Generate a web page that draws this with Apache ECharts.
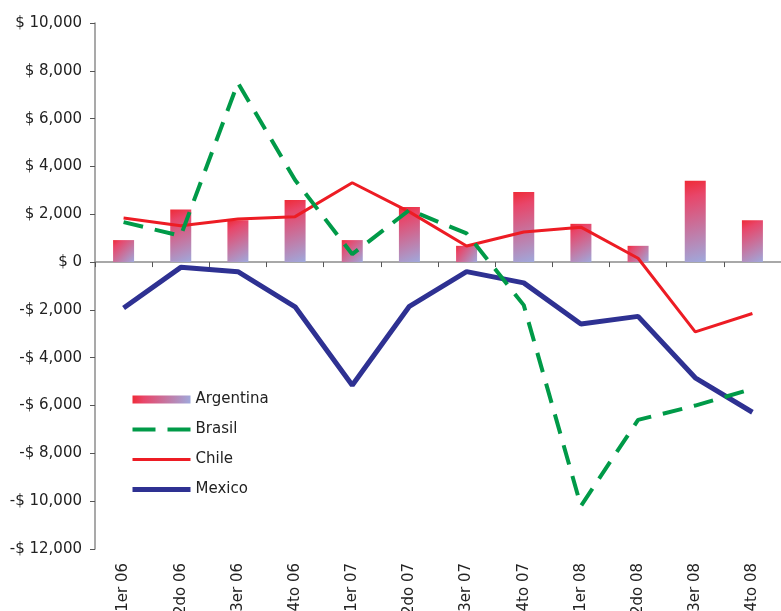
<!DOCTYPE html>
<html>
<head>
<meta charset="utf-8">
<script src="https://cdn.jsdelivr.net/npm/echarts@6/dist/echarts.min.js"></script>
<style>
  html, body { margin: 0; padding: 0; background: #fff; }
  #chart { width: 781px; height: 611px; }
</style>
</head>
<body>
<div id="chart"></div>
<script>
// quarters on the x axis
const quarters = ['1er 06', '2do 06', '3er 06', '4to 06', '1er 07', '2do 07', '3er 07', '4to 07', '1er 08', '2do 08', '3er 08', '4to 08']

// values
const argentina = [920, 2200, 1750, 2600, 920, 2300, 680, 2930, 1600, 680, 3400, 1750]
const brasil = [1670, 1100, 7500, 3430, 330, 2180, 1200, -1800, -10200, -6600, -6000, -5300]
const chile = [1840, 1520, 1800, 1900, 3320, 2100, 670, 1260, 1460, 160, -2920, -2150]
const mexico = [-1920, -220, -400, -1870, -5150, -1850, -400, -870, -2590, -2270, -4840, -6280]

const font = 'DejaVu Sans'
const axisGray = '#8c8c8c'
const green = '#009a48'
const red = '#ed1c24'
const blue = '#2e3192'

function money(v) {
  const s = Math.abs(v).toLocaleString('en-US')
  return (v < 0 ? '-$ ' : '$ ') + s
}

const myChart = echarts.init(document.getElementById('chart'))

const barGradient = new echarts.graphic.LinearGradient(0, 0, 1, 1, [
  { offset: 0, color: '#ef2a36' },
  { offset: 0.2, color: '#e8466a' },
  { offset: 1, color: '#9fa9dc' }
])

const option = {
  animation: false,
  textStyle: { fontFamily: font },
  grid: { left: 95, right: 0, top: 23, bottom: 62, outerBoundsMode: 'none' },
  legend: {
    data: [
      { name: 'Argentina', icon: 'rect' },
      { name: 'Brasil', itemStyle: { opacity: 0 }, lineStyle: { width: 4, color: green, type: [23, 12] } },
      { name: 'Chile', itemStyle: { opacity: 0 }, lineStyle: { width: 3, color: red } },
      { name: 'Mexico', itemStyle: { opacity: 0 }, lineStyle: { width: 5, color: blue } }
    ],
    orient: 'vertical',
    left: 130,
    top: 392,
    padding: 0,
    itemWidth: 58,
    itemHeight: 8,
    itemGap: 15,
    textStyle: { fontFamily: font, fontSize: 15, color: '#222' }
  },
  xAxis: [
    {
      type: 'category',
      data: quarters,
      position: 'bottom',
      axisLine: { show: false, onZero: false },
      axisTick: { show: false },
      axisLabel: { rotate: 90, margin: 14, fontSize: 15, color: '#222', fontFamily: font }
    },
    {
      type: 'category',
      data: quarters,
      position: 'bottom',
      axisLine: { show: true, onZero: true, lineStyle: { color: axisGray, width: 1.5 } },
      axisTick: { show: true, length: 5, lineStyle: { color: '#555' } },
      axisLabel: { show: false }
    }
  ],
  yAxis: {
    type: 'value',
    min: -12000,
    max: 10000,
    interval: 2000,
    splitLine: { show: false },
    axisLine: { show: true, lineStyle: { color: axisGray, width: 1.5 } },
    axisTick: { show: true, length: 5, lineStyle: { color: '#555' } },
    axisLabel: { margin: 13, fontSize: 15, color: '#222', fontFamily: font, formatter: money }
  },
  series: [
    {
      name: 'Argentina',
      type: 'bar',
      data: argentina,
      barWidth: 21,
      itemStyle: { color: barGradient }
    },
    {
      name: 'Chile',
      type: 'line',
      data: chile,
      symbol: 'none',
      lineStyle: { color: red, width: 3 },
      itemStyle: { color: red }
    },
    {
      name: 'Mexico',
      type: 'line',
      data: mexico,
      symbol: 'none',
      lineStyle: { color: blue, width: 5 },
      itemStyle: { color: blue }
    },
    {
      name: 'Brasil',
      type: 'line',
      data: brasil,
      symbol: 'none',
      lineStyle: { color: green, width: 4, type: [20, 12] },
      itemStyle: { color: green }
    }
  ]
}

myChart.setOption(option)

window.addEventListener('resize', () => { myChart.resize() })
</script>
</body>
</html>
